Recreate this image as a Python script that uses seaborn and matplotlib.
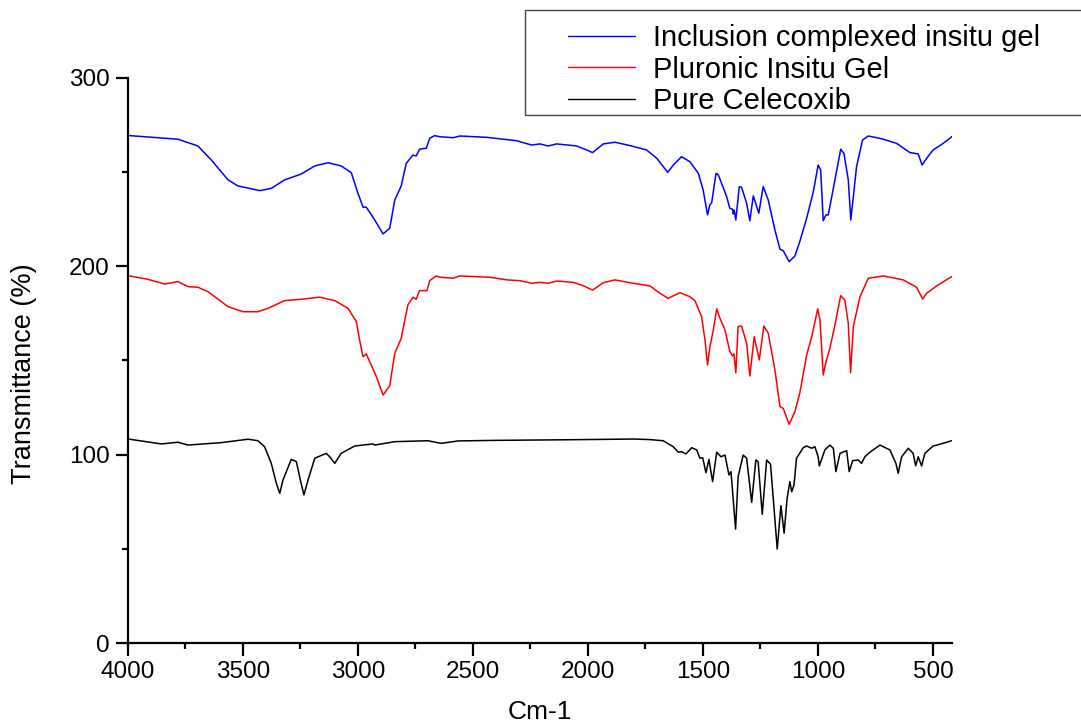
import matplotlib
matplotlib.use("Agg")
import matplotlib.pyplot as plt
import seaborn as sns
import pandas as pd
from matplotlib.patches import Rectangle
from matplotlib.ticker import MultipleLocator

# ---------------- data (wavenumber cm-1, transmittance %) ----------------
inclusion_wn = [3993, 3783, 3696, 3638, 3565, 3522, 3427, 3377, 3319, 3247, 3188, 3130, 3073, 3029,
                3000, 2978, 2964, 2927, 2891, 2862, 2840, 2812, 2790, 2761, 2747, 2732, 2703, 2688,
                2667, 2643, 2586, 2557, 2440, 2310, 2245, 2209, 2173, 2136, 2049, 2006, 1980, 1933,
                1883, 1817, 1745, 1701, 1653, 1629, 1593, 1557, 1520, 1499, 1480, 1470, 1462, 1443,
                1433, 1419, 1397, 1383, 1371, 1368, 1364, 1357, 1342, 1332, 1310, 1296, 1281, 1257,
                1238, 1216, 1187, 1165, 1151, 1125, 1100, 1079, 1049, 1020, 999, 988, 977, 965, 955,
                926, 901, 887, 868, 857, 846, 832, 806, 781, 752, 716, 658, 600, 564, 547, 527, 499,
                455, 414]
inclusion_t = [269.4, 267.5, 263.9, 256.5, 245.9, 242.7, 240.2, 241.4, 245.9, 249.0, 253.3, 255.0, 253.3, 249.7,
               238.8, 231.4, 231.4, 224.6, 217.2, 220.2, 235.2, 242.7, 254.7, 259.1, 258.6, 262.2, 262.7, 268.0,
               269.4, 268.8, 268.3, 269.2, 268.5, 266.7, 264.4, 265.0, 263.9, 265.0, 263.9, 261.8, 260.4, 265.0,
               265.9, 264.1, 261.8, 257.4, 249.9, 253.8, 258.2, 255.6, 249.4, 240.5, 227.3, 232.6, 233.8, 249.4,
               248.5, 244.1, 237.0, 230.8, 230.3, 227.8, 229.9, 224.6, 242.3, 242.0, 233.5, 224.2, 237.4, 228.2,
               242.3, 235.2, 219.3, 209.1, 208.3, 202.5, 205.5, 213.1, 225.5, 239.6, 253.8, 251.2, 224.2, 227.3, 227.3,
               245.9, 262.2, 260.0, 245.9, 224.6, 237.0, 252.9, 267.1, 269.2, 268.5, 267.5, 265.3, 260.4, 259.7, 253.8, 257.4, 261.8,
               265.3, 269.2]

pluronic_wn = [3993, 3913, 3840, 3783, 3739, 3696, 3652, 3565, 3500, 3435, 3391, 3319, 3247, 3167, 3101,
               3043, 3007, 2993, 2978, 2964, 2949, 2920, 2891, 2862, 2840, 2812, 2783, 2761, 2747, 2732,
               2700, 2688, 2660, 2643, 2586, 2557, 2426, 2353, 2296, 2245, 2209, 2173, 2136, 2064, 2020,
               1980, 1933, 1883, 1817, 1730, 1687, 1651, 1600, 1557, 1535, 1506, 1491, 1480, 1470, 1455,
               1440, 1426, 1404, 1383, 1371, 1365, 1357, 1347, 1332, 1310, 1296, 1277, 1255, 1235, 1216,
               1187, 1165, 1151, 1125, 1100, 1079, 1049, 1027, 1001, 991, 977, 965, 948, 926, 901, 883,
               868, 858, 846, 817, 781, 716, 629, 571, 545, 527, 484, 419]
pluronic_t = [194.9, 193.1, 190.6, 191.9, 189.2, 188.9, 186.5, 178.6, 175.9, 175.9, 177.7, 181.8, 182.5, 183.6, 181.8,
              177.7, 170.6, 160.9, 152.0, 153.5, 149.4, 141.4, 131.7, 136.5, 153.8, 161.8, 179.5, 183.6, 182.5, 187.1,
              187.1, 192.4, 194.9, 194.2, 193.7, 194.9, 194.2, 192.8, 192.4, 191.0, 191.5, 191.0, 192.2, 191.5, 189.7,
              187.4, 191.3, 192.8, 191.3, 189.6, 185.7, 183.0, 186.0, 183.9, 181.8, 173.3, 160.9, 147.6, 157.0, 166.2,
              177.4, 172.4, 166.2, 154.7, 152.4, 153.5, 143.5, 168.0, 168.3, 159.1, 141.8, 162.6, 150.3, 168.3, 164.5,
              145.0, 125.5, 124.6, 116.1, 122.8, 132.6, 152.9, 162.6, 177.4, 171.5, 142.3, 149.4, 156.5, 168.9, 184.4, 182.1,
              169.8, 143.5, 168.0, 183.9, 193.7, 194.9, 192.8, 188.9, 182.7, 185.7, 189.6, 194.5]

celecoxib_wn = [3993, 3855, 3783, 3739, 3594, 3478, 3435, 3406, 3377, 3355, 3340, 3326, 3290, 3268, 3249,
                3235, 3217, 3188, 3138, 3123, 3101, 3073, 3014, 2935, 2927, 2840, 2696, 2638, 2565, 2400,
                2100, 1800, 1730, 1673, 1629, 1607, 1593, 1574, 1549, 1527, 1513, 1501, 1487, 1474, 1458,
                1440, 1422, 1404, 1387, 1378, 1358, 1347, 1325, 1310, 1288, 1270, 1260, 1242, 1223, 1206,
                1177, 1161, 1147, 1134, 1122, 1114, 1104, 1093, 1064, 1049, 1027, 1013, 999, 994, 984,
                970, 948, 933, 922, 904, 875, 864, 849, 825, 810, 796, 774, 730, 687, 661, 651, 636, 607,
                586, 575, 564, 549, 535, 499, 470, 419]
celecoxib_t = [108.2, 105.7, 106.6, 105.1, 106.4, 108.2, 107.4, 104.2, 95.4, 84.8, 79.5, 86.6, 97.5, 96.3, 85.7,
               78.6, 86.6, 98.1, 100.7, 98.9, 95.4, 100.7, 104.6, 105.7, 105.1, 106.9, 107.4, 106.0, 107.3, 107.6,
               107.9, 108.3, 108.0, 107.4, 104.2, 101.3, 101.6, 100.4, 103.7, 102.5, 98.1, 98.4, 90.4, 97.5, 85.7,
               101.3, 98.9, 99.8, 89.2, 91.0, 60.5, 88.3, 99.8, 98.1, 74.7, 97.2, 96.3, 68.3, 97.2, 94.9,
               49.9, 72.9, 58.3, 76.8, 85.7, 80.3, 83.9, 98.1, 103.7, 104.6, 103.4, 104.2, 98.9, 94.0, 97.5,
               102.5, 105.1, 103.4, 91.0, 100.7, 102.1, 91.0, 96.8, 97.2, 95.4, 98.9, 101.3, 105.1, 102.5, 95.4, 90.1, 98.9, 103.4,
               100.7, 94.1, 98.9, 94.0, 100.7, 104.6, 105.5, 107.4]

series_names = ["Inclusion complexed insitu gel", "Pluronic Insitu Gel", "Pure Celecoxib"]
series_colors = ["#0000ff", "#ff0000", "#000000"]
x_ticks = [4000, 3500, 3000, 2500, 2000, 1500, 1000, 500]
y_ticks = [0, 100, 200, 300]

frames = []
for name, wn, t in zip(series_names,
                       [inclusion_wn, pluronic_wn, celecoxib_wn],
                       [inclusion_t, pluronic_t, celecoxib_t]):
    frames.append(pd.DataFrame({"wn": wn, "T": t, "series": name}))
df = pd.concat(frames, ignore_index=True)

# ---------------- plot ----------------
sns.set_style("ticks")
plt.rcParams["font.family"] = ["Liberation Sans", "DejaVu Sans"]
plt.rcParams["text.color"] = "black"
plt.rcParams["axes.labelcolor"] = "black"
plt.rcParams["lines.solid_joinstyle"] = "round"

fig = plt.figure(figsize=(10.81, 7.23), dpi=100)
ax = fig.add_axes([128 / 1081, 80 / 723, 824 / 1081, 565 / 723])

sns.lineplot(data=df, x="wn", y="T", hue="series", hue_order=series_names,
             palette=dict(zip(series_names, series_colors)), sort=False,
             estimator=None, linewidth=1.1, ax=ax, legend=False)

ax.set_xlim(4000, 417)
ax.set_ylim(0, 300)
ax.set_xticks(x_ticks)
ax.set_yticks(y_ticks)
ax.xaxis.set_minor_locator(MultipleLocator(250))
ax.yaxis.set_minor_locator(MultipleLocator(50))
ax.tick_params(axis="both", which="major", direction="out", length=9, width=1.6,
               labelsize=17.5, color="black", labelcolor="black", pad=4)
ax.tick_params(axis="both", which="minor", direction="out", length=4.5, width=1.6, color="black")
for side in ["top", "right"]:
    ax.spines[side].set_visible(False)
for side in ["left", "bottom"]:
    ax.spines[side].set_linewidth(1.6)
    ax.spines[side].set_color("black")

ax.set_xlabel("Cm-1", fontsize=19, labelpad=12)
ax.set_ylabel("Transmittance (%)", fontsize=19.5)
ax.yaxis.set_label_coords(-0.111, 0.476)

# legend
handles = [plt.Line2D([], [], color=c, linewidth=1.0) for c in series_colors]
leg = fig.legend(handles, series_names, loc="upper left",
                 bbox_to_anchor=(568 / 1081, 1 - 24 / 723), frameon=False,
                 fontsize=21, handlelength=2.3, handletextpad=0.6,
                 labelspacing=0.12, borderpad=0.0, borderaxespad=0)
fig.add_artist(Rectangle((525 / 1081, 1 - 115 / 723), 600 / 1081, 105 / 723,
                         transform=fig.transFigure, fill=False,
                         edgecolor="#444444", linewidth=1.0))

fig.savefig("out.png", dpi=100)
